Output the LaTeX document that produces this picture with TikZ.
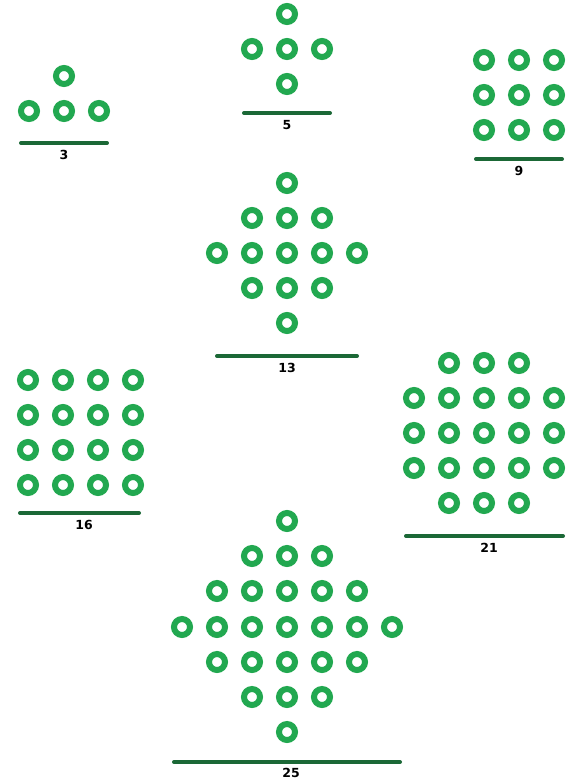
\documentclass[tikz,border=0pt]{standalone}
\usepackage{fontspec}
\setmainfont{DejaVu Sans}
\usepackage{tikz}
\usetikzlibrary{positioning}
\definecolor{ringgreen}{RGB}{34,168,80}
\definecolor{bargreen}{RGB}{27,104,54}
\tikzset{
    dot/.style={circle, draw=ringgreen, fill=white, line width=6pt, minimum size=16pt, inner sep=0pt},
    bar/.style={draw=bargreen, line width=4pt, line cap=round},
    count/.style={font=\fontsize{12.5}{14}\selectfont\bfseries, inner sep=0pt}
}

\begin{document}
\begin{tikzpicture}[x=1pt, y=-1pt]
            \useasboundingbox (0,0) rectangle (567,781);

            %triangle of 3
            \node[dot] (a1) at (64,76) {};
            \foreach \i in {1,2,3}
                \node[dot] (a-\i) at (29+35*\i-35,111) {};
            \coordinate (al) at (21,143);
            \coordinate (ar) at (107,143);
            \draw[bar] (al) -- (ar);
            \node[count] (na) at (64,155) {3};

            %cross of 5
            \foreach \y/\n in {14/1, 49/3, 84/1}
                \foreach \i in {1,...,\n}
                    \node[dot] (b-\y-\i) at ({287+35*(\i-(\n+1)/2)},\y) {};
            \coordinate (bl) at (244,113);
            \coordinate (br) at (330,113);
            \draw[bar] (bl) -- (br);
            \node[count] (nb) at (287,125) {5};

            %square of 9
            \foreach \x in {1,2,3}
                \foreach \y in {1,2,3}
                    \node[dot] (c-\x-\y) at (449+35*\x,25+35*\y) {};
            \coordinate (cl) at (476,159);
            \coordinate (cr) at (562,159);
            \draw[bar] (cl) -- (cr);
            \node[count] (nc) at (519,171) {9};

            %diamond of 13
            \foreach \y/\n in {183/1, 218/3, 253/5, 288/3, 323/1}
                \foreach \i in {1,...,\n}
                    \node[dot] (d-\y-\i) at ({287+35*(\i-(\n+1)/2)},\y) {};
            \coordinate (dl) at (217,356);
            \coordinate (dr) at (357,356);
            \draw[bar] (dl) -- (dr);
            \node[count] (nd) at (287,368) {13};

            %square of 16
            \foreach \x in {1,...,4}
                \foreach \y in {1,...,4}
                    \node[dot] (e-\x-\y) at (-7+35*\x,345+35*\y) {};
            \coordinate (el) at (20,513);
            \coordinate (er) at (139,513);
            \draw[bar] (el) -- (er);
            \node[count] (ne) at (84,525) {16};

            %octagon of 21
            \foreach \y/\n in {363/3, 398/5, 433/5, 468/5, 503/3}
                \foreach \i in {1,...,\n}
                    \node[dot] (f-\y-\i) at ({484+35*(\i-(\n+1)/2)},\y) {};
            \coordinate (fl) at (406,536);
            \coordinate (fr) at (563,536);
            \draw[bar] (fl) -- (fr);
            \node[count] (nf) at (489,548) {21};

            %diamond of 25
            \foreach \y/\n in {521/1, 556/3, 591/5, 627/7, 662/5, 697/3, 732/1}
                \foreach \i in {1,...,\n}
                    \node[dot] (g-\y-\i) at ({287+35*(\i-(\n+1)/2)},\y) {};
            \coordinate (gl) at (174,762);
            \coordinate (gr) at (400,762);
            \draw[bar] (gl) -- (gr);
            \node[count] (ng) at (291,773) {25};
\end{tikzpicture}
\end{document}
